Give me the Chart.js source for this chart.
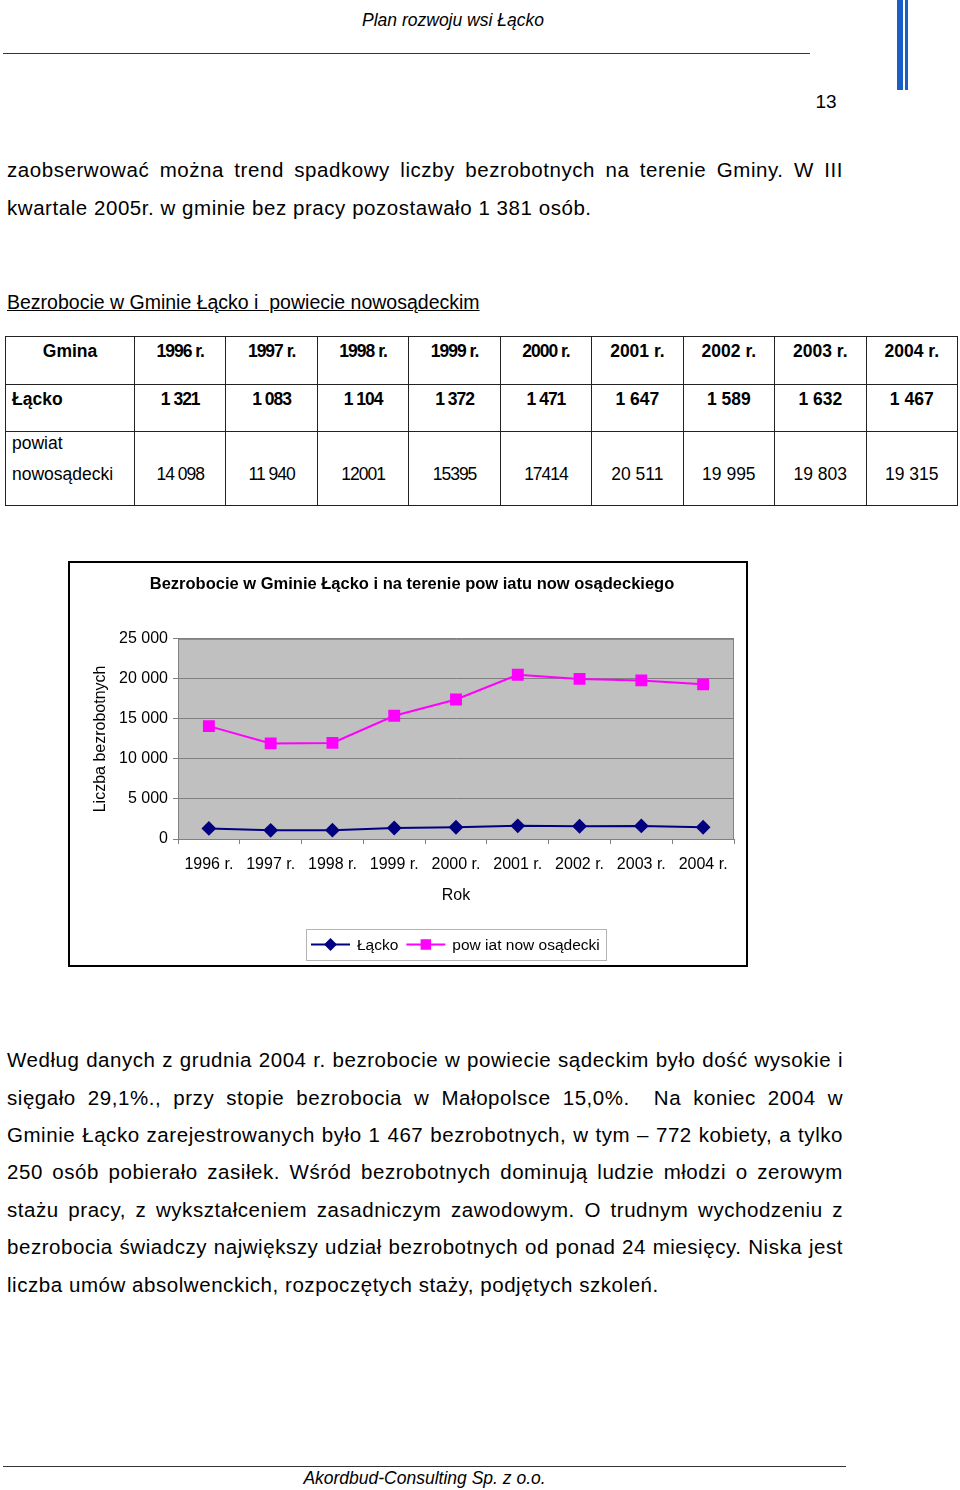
<!DOCTYPE html>
<html lang="pl">
<head>
<meta charset="utf-8">
<script src="https://cdn.jsdelivr.net/npm/chart.js@4/dist/chart.umd.min.js"></script>
<style>
  body { margin: 0; width: 960px; height: 1490px; background: #fff; position: relative; font-family: "Liberation Sans", Arial, sans-serif; color: #000; }
  .abs { position: absolute; }
  .ln { position: absolute; left: 7px; width: 836px; font-size: 20.5px; letter-spacing: 0.55px; line-height: 24px; white-space: nowrap; }
  .jl { text-align: justify; text-align-last: justify; white-space: normal; }
  table { position: absolute; left: 5px; top: 336px; width: 953px; border-collapse: collapse; table-layout: fixed; font-size: 17.5px; }
  td { border: 1px solid #222; vertical-align: top; padding: 2px 0 0 0; line-height: 24px; text-align: center; overflow: hidden; white-space: nowrap; }
  td.first { text-align: left; padding-left: 6px; }
  .b td { font-weight: bold; }
  .cd { letter-spacing: -1px; }
</style>
</head>
<body>

<div class="abs" style="left:0;width:906px;top:8px;text-align:center;font-size:17.5px;font-style:italic;line-height:24px;">Plan rozwoju wsi Łącko</div>
<div class="abs" style="left:3px;top:53px;width:807px;height:1px;background:#333;"></div>
<div class="abs" style="left:897px;top:0;width:6px;height:90px;background:#1a5fc8;"></div>
<div class="abs" style="left:905px;top:0;width:3px;height:90px;background:#1a5fc8;"></div>
<div class="abs" style="left:790px;top:90px;width:72px;text-align:center;font-size:19px;line-height:24px;">13</div>

<div class="ln jl" style="top:158px;">zaobserwować można trend spadkowy liczby bezrobotnych na terenie Gminy. W III</div>
<div class="ln" style="top:196px;">kwartale 2005r. w gminie bez pracy pozostawało 1 381 osób.</div>
<div class="ln" style="top:290px;font-size:19.5px;letter-spacing:0;text-decoration:underline;">Bezrobocie w Gminie Łącko i &nbsp;powiecie nowosądeckim</div>

<table>
  <colgroup>
    <col style="width:129px"><col><col><col><col><col><col><col><col><col>
  </colgroup>
  <tr class="b" style="height:48px;">
    <td>Gmina</td><td class="cd">1996 r.</td><td class="cd">1997 r.</td><td class="cd">1998 r.</td><td class="cd">1999 r.</td><td class="cd">2000 r.</td><td>2001 r.</td><td>2002 r.</td><td>2003 r.</td><td>2004 r.</td>
  </tr>
  <tr class="b" style="height:47px;">
    <td class="first">Łącko</td><td class="cd">1 321</td><td class="cd">1 083</td><td class="cd">1 104</td><td class="cd">1 372</td><td class="cd">1 471</td><td>1 647</td><td>1 589</td><td>1 632</td><td>1 467</td>
  </tr>
  <tr style="height:74px;">
    <td class="first" style="padding-top:0;"><div style="line-height:22px;">powiat</div><div style="line-height:40px;">nowosądecki</div></td>
    <td class="cd" style="padding-top:30px;">14 098</td><td class="cd" style="padding-top:30px;">11 940</td><td class="cd" style="padding-top:30px;">12001</td><td class="cd" style="padding-top:30px;">15395</td><td class="cd" style="padding-top:30px;">17414</td><td style="padding-top:30px;">20 511</td><td style="padding-top:30px;">19 995</td><td style="padding-top:30px;">19 803</td><td style="padding-top:30px;">19 315</td>
  </tr>
</table>

<div class="abs" style="left:68px;top:561px;width:680px;height:406px;border:2px solid #000;box-sizing:border-box;">
  <canvas id="chart" width="676" height="402"></canvas>
</div>

<div class="ln jl" style="top:1048px;">Według danych z grudnia 2004 r. bezrobocie w powiecie sądeckim było dość wysokie i</div>
<div class="ln jl" style="top:1086px;">sięgało 29,1%., przy stopie bezrobocia w Małopolsce 15,0%.&nbsp; Na koniec 2004 w</div>
<div class="ln jl" style="top:1123px;">Gminie Łącko zarejestrowanych było 1 467 bezrobotnych, w tym – 772 kobiety, a tylko</div>
<div class="ln jl" style="top:1160px;">250 osób pobierało zasiłek. Wśród bezrobotnych dominują ludzie młodzi o zerowym</div>
<div class="ln jl" style="top:1198px;">stażu pracy, z wykształceniem zasadniczym zawodowym. O trudnym wychodzeniu z</div>
<div class="ln jl" style="top:1235px;">bezrobocia świadczy największy udział bezrobotnych od ponad 24 miesięcy. Niska jest</div>
<div class="ln" style="top:1273px;">liczba umów absolwenckich, rozpoczętych staży, podjętych szkoleń.</div>

<div class="abs" style="left:3px;top:1466px;width:843px;height:1px;background:#333;"></div>
<div class="abs" style="left:3px;width:843px;top:1466px;text-align:center;font-size:17.5px;font-style:italic;line-height:24px;">Akordbud-Consulting Sp. z o.o.</div>

<script>
const years = ["1996 r.", "1997 r.", "1998 r.", "1999 r.", "2000 r.", "2001 r.", "2002 r.", "2003 r.", "2004 r."];
const lackoValues = [1321, 1083, 1104, 1372, 1471, 1647, 1589, 1632, 1467];
const powiatValues = [14098, 11940, 12001, 15395, 17414, 20511, 19995, 19803, 19315];
const yMax = 25000;
const yStep = 5000;

const FONT = "'Liberation Sans', Arial, sans-serif";

// thousands with a space: 25 000
function fmt(v) {
  return String(v).replace(/\B(?=(\d{3})+(?!\d))/g, " ");
}

// grey plot area like the old Excel charts
const plotBg = {
  id: "plotBg",
  beforeDraw(chart) {
    const { ctx, chartArea: a } = chart;
    ctx.save();
    ctx.fillStyle = "#c0c0c0";
    ctx.fillRect(a.left, a.top, a.right - a.left, a.bottom - a.top);
    ctx.strokeStyle = "#808080";
    ctx.lineWidth = 1;
    ctx.strokeRect(a.left + 0.5, a.top + 0.5, a.right - a.left - 1, a.bottom - a.top);
    ctx.restore();
  }
};

// legend with line + marker inside a thin box
const boxLegend = {
  id: "boxLegend",
  afterDraw(chart) {
    const { ctx, chartArea: a } = chart;
    const w = 300, h = 31;
    const left = Math.round((a.left + a.right) / 2 - w / 2);
    const top = chart.height - 36;
    const cy = top + h / 2;
    ctx.save();
    ctx.strokeStyle = "#b4b4b4";
    ctx.lineWidth = 1;
    ctx.strokeRect(left + 0.5, top + 0.5, w, h);
    ctx.font = "15.5px " + FONT;
    ctx.textBaseline = "middle";
    let x = left + 5;
    chart.data.datasets.forEach((ds) => {
      ctx.strokeStyle = ds.borderColor;
      ctx.fillStyle = ds.backgroundColor;
      ctx.lineWidth = 2;
      ctx.beginPath();
      ctx.moveTo(x, cy);
      ctx.lineTo(x + 39, cy);
      ctx.stroke();
      Chart.helpers.drawPoint(ctx, { pointStyle: ds.pointStyle, radius: ds.pointRadius - 1, rotation: 0, borderWidth: 1 }, x + 19.5, cy);
      ctx.fillStyle = "#000";
      ctx.fillText(ds.label, x + 46, cy + 1);
      x += 46 + ctx.measureText(ds.label).width + 8;
    });
    ctx.restore();
  }
};

const ctx = document.getElementById("chart").getContext("2d");
new Chart(ctx, {
  type: "line",
  data: {
    labels: years,
    datasets: [
      {
        label: "Łącko",
        data: lackoValues,
        borderColor: "#000080",
        backgroundColor: "#000080",
        borderWidth: 2,
        pointStyle: "rectRot",
        pointRadius: 6,
        tension: 0
      },
      {
        label: "pow iat now osądecki",
        data: powiatValues,
        borderColor: "#ff00ff",
        backgroundColor: "#ff00ff",
        borderWidth: 2,
        pointStyle: "rect",
        pointRadius: 7,
        tension: 0
      }
    ]
  },
  options: {
    responsive: false,
    animation: false,
    layout: { padding: { left: 20, right: 12, top: 0, bottom: 59 } },
    plugins: {
      legend: { display: false },
      tooltip: { enabled: false },
      title: {
        display: true,
        text: "Bezrobocie w Gminie Łącko i na terenie pow iatu now osądeckiego",
        color: "#000",
        font: { family: FONT, size: 16.5, weight: "bold" },
        padding: { top: 12, bottom: 44 }
      }
    },
    scales: {
      x: {
        offset: true,
        grid: { offset: true, drawOnChartArea: false, tickLength: 5, color: "#808080" },
        border: { color: "#808080" },
        ticks: { color: "#000", font: { family: FONT, size: 16 }, padding: 11, maxRotation: 0, autoSkip: false },
        title: { display: true, text: "Rok", color: "#000", font: { family: FONT, size: 16 }, padding: { top: 0, bottom: 1 } },
        afterFit: (s) => { s.height = 67; }
      },
      y: {
        min: 0,
        max: yMax,
        ticks: { stepSize: yStep, color: "#000", font: { family: FONT, size: 16 }, padding: 5, callback: (v) => fmt(v) },
        grid: { color: "#808080", tickLength: 5 },
        border: { color: "#808080" },
        title: { display: true, text: "Liczba bezrobotnych", color: "#000", font: { family: FONT, size: 16 }, padding: { top: 1, bottom: 0 } },
        afterFit: (s) => { s.width = 88; }
      }
    }
  },
  plugins: [plotBg, boxLegend]
});
</script>
</body>
</html>
